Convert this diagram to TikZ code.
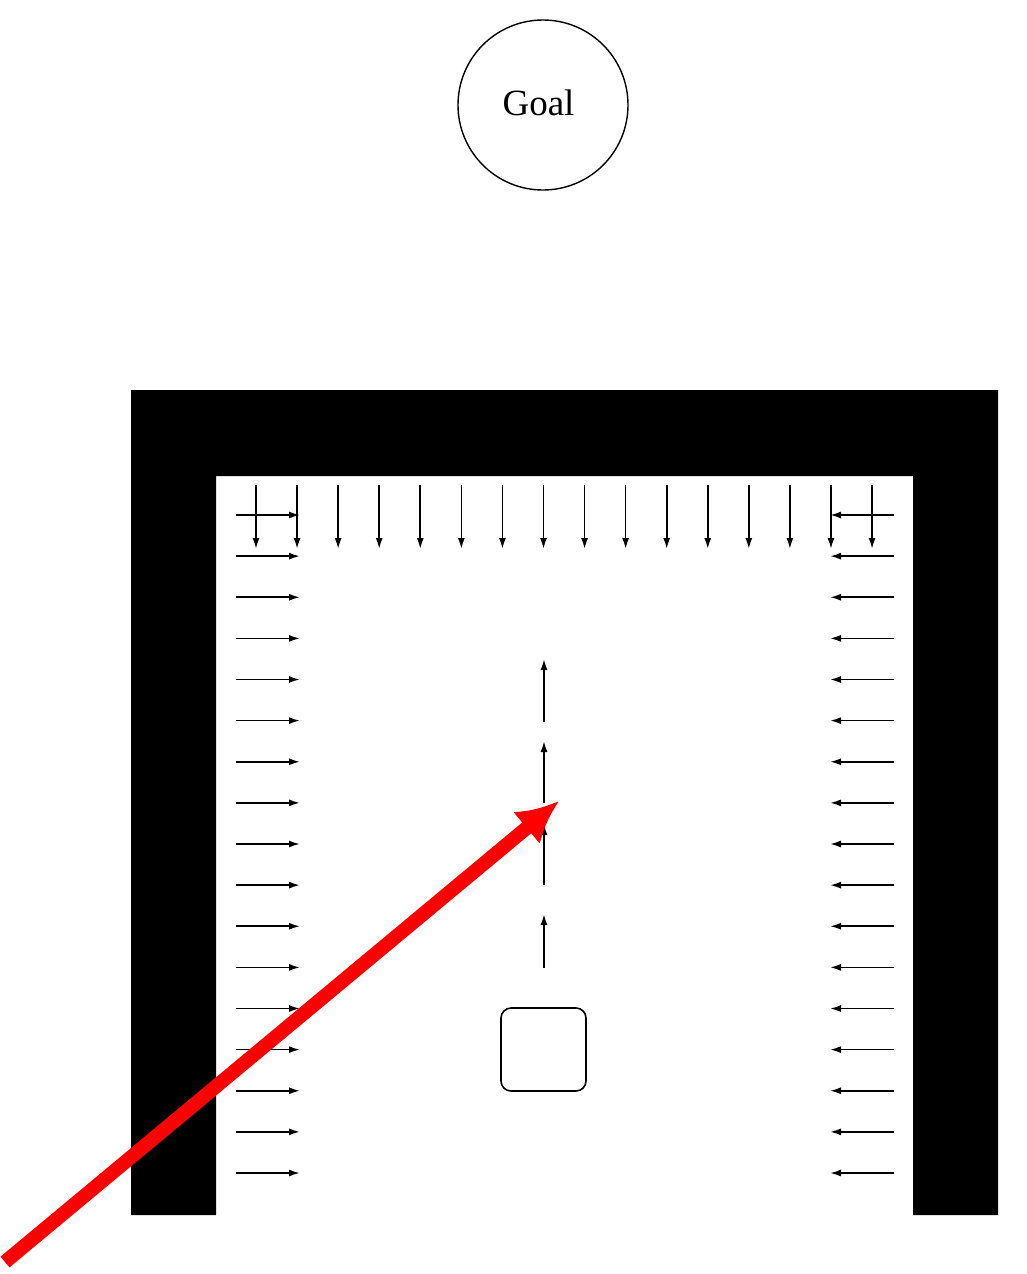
\documentclass[tikz,border=0pt]{standalone}
\usepackage{fontspec}
\setmainfont{Liberation Serif}
\usetikzlibrary{arrows.meta}
\begin{document}
\begin{tikzpicture}[x=1pt,y=-1pt,
  wall/.style={fill=black,draw=none},
  vec/.style={line width=1.7pt,-{Latex[length=11pt,width=7pt]}},
  pull/.style={line width=14pt,red,-{Latex[length=42pt,width=42pt]}}]
\useasboundingbox[fill=white] (0,0) rectangle (1026,1274);
% walls
\fill[wall] (131,390) -- (998,390) -- (998,1215) -- (913,1215) -- (913,476) -- (216,476) -- (216,1215) -- (131,1215) -- cycle;
% goal
\node[draw,circle,line width=1.4pt,minimum size=170pt,inner sep=0pt] (goal) at (543,105) {};
\node[inner sep=0pt,font=\fontsize{37}{40}\selectfont] (goaltext) at (538.5,103) {Goal};
% top row, pointing down
\foreach \i in {0,...,15}{
  \pgfmathsetmacro{\xx}{256+41.07*\i}
  \coordinate (t\i a) at (\xx,485);
  \coordinate (t\i b) at (\xx,549);
  \draw[vec] (t\i a) -- (t\i b);
}
% side columns
\foreach \j in {0,...,16}{
  \pgfmathsetmacro{\yy}{515+41.125*\j}
  \coordinate (l\j a) at (236,\yy);
  \coordinate (l\j b) at (300,\yy);
  \coordinate (r\j a) at (894,\yy);
  \coordinate (r\j b) at (830,\yy);
  \draw[vec] (l\j a) -- (l\j b);
  \draw[vec] (r\j a) -- (r\j b);
}
% centre column, pointing up
\foreach \k/\ya/\yb in {1/722/659,2/803/741,3/885/824,4/968/914}{
  \coordinate (c\k a) at (544,\ya);
  \coordinate (c\k b) at (544,\yb);
  \draw[vec] (c\k a) -- (c\k b);
}
% obstacle
\node[draw,line width=1.6pt,rounded corners=10pt,minimum width=85pt,minimum height=83pt,inner sep=0pt] (obst) at (543.5,1049.5) {};
% red pull arrow
\coordinate (rs) at (5,1262);
\coordinate (rt) at (559,801);
\draw[pull] (rs) -- (rt);
\end{tikzpicture}
\end{document}
